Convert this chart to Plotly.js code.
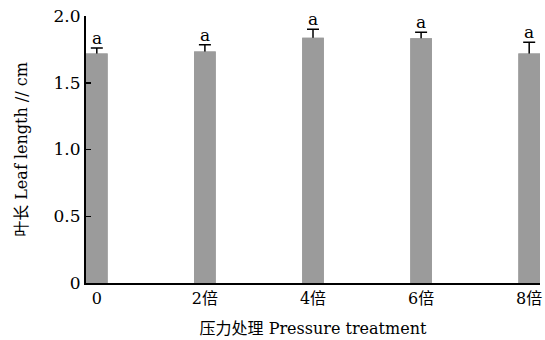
<!DOCTYPE html>
<html>
<head>
<meta charset="utf-8">
<script src="https://cdn.plot.ly/plotly-3.0.1.min.js"></script>
<style>html,body{margin:0;padding:0;background:#fff;}#chart{width:545px;height:340px;}</style>
</head>
<body>
<div id="chart"></div>
<script>
var categories = ["0", "2倍", "4倍", "6倍", "8倍"];
var leafLength = [1.72, 1.735, 1.837, 1.833, 1.72];
var leafErr = [0.04, 0.05, 0.063, 0.045, 0.083];
var sigLetters = ["a", "a", "a", "a", "a"];
var yTickVals = [0, 0.5, 1.0, 1.5, 2.0];
var yTickText = ["0", "0.5", "1.0", "1.5", "2.0"];

var FONT = "DejaVu Serif, Noto Sans CJK SC, serif";
var BAR = "#9b9b9b";

var errTrace = {
  type: "bar", x: categories, y: leafLength, width: 0.2,
  marker: {color: BAR, line: {width: 0}},
  error_y: {type: "data", symmetric: false, array: leafErr, arrayminus: leafLength,
            color: "#000", thickness: 1.5, width: 6},
  hoverinfo: "skip", showlegend: false
};
var barTrace = {
  type: "bar", x: categories, y: leafLength, width: 0.2,
  marker: {color: BAR, line: {width: 0}},
  showlegend: false
};

var annotations = categories.map(function(c, i) {
  return {x: c, y: leafLength[i] + leafErr[i], text: sigLetters[i], showarrow: false,
          xref: "x", yref: "y", yanchor: "bottom", yshift: -2,
          font: {family: FONT, size: 17, color: "#000"}};
});

var layout = {
  width: 545, height: 340,
  margin: {l: 86, r: 5, t: 16, b: 57},
  paper_bgcolor: "#fff", plot_bgcolor: "#fff",
  barmode: "overlay",
  font: {family: FONT, size: 16, color: "#000"},
  xaxis: {
    type: "category", range: [-0.1, 4.1],
    showline: true, linecolor: "#000", linewidth: 2,
    ticks: "", showgrid: false, zeroline: false,
    tickfont: {family: FONT, size: 16},
    title: {text: "压力处理 Pressure treatment", font: {family: FONT, size: 16}, standoff: 16}
  },
  yaxis: {
    range: [0, 2.0], tickvals: yTickVals, ticktext: yTickText,
    showline: true, linecolor: "#000", linewidth: 2,
    ticks: "inside", ticklen: 5, tickwidth: 1.5, tickcolor: "#000",
    showgrid: false, zeroline: false,
    tickfont: {family: FONT, size: 17},
    title: {text: "叶长 Leaf length // cm", font: {family: FONT, size: 16}, standoff: 22}
  },
  annotations: annotations
};

Plotly.newPlot("chart", [errTrace, barTrace], layout, {displayModeBar: false, staticPlot: true});
</script>
</body>
</html>
